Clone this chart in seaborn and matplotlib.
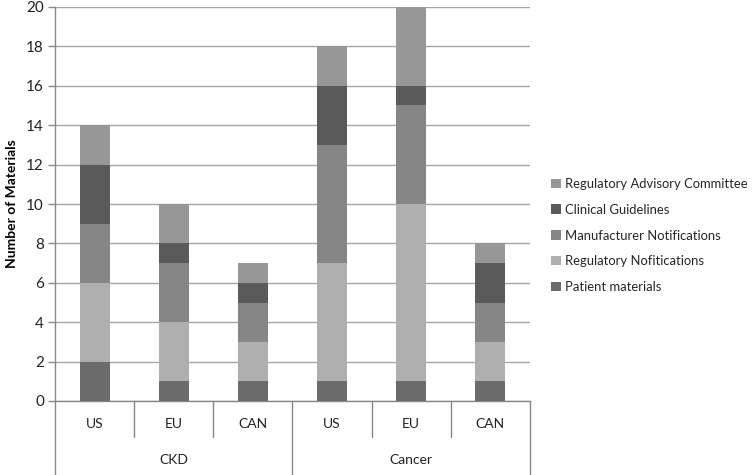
import pandas as pd
import numpy as np
import seaborn as sns
import matplotlib.pyplot as plt
import matplotlib.transforms as mtransforms
from matplotlib.patches import Patch

# Data
groups = ["CKD", "CKD", "CKD", "Cancer", "Cancer", "Cancer"]
regions = ["US", "EU", "CAN", "US", "EU", "CAN"]
series = ["Patient materials", "Regulatory Nofitications", "Manufacturer Notifications",
          "Clinical Guidelines", "Regulatory Advisory Committee"]
patient_materials = [2, 1, 1, 1, 1, 1]
regulatory_notifications = [4, 3, 2, 6, 9, 2]
manufacturer_notifications = [3, 3, 2, 6, 5, 2]
clinical_guidelines = [3, 1, 1, 3, 1, 2]
regulatory_advisory = [2, 2, 1, 2, 4, 1]
colors = ["#6b6b6b", "#afafaf", "#868686", "#5a5a5a", "#979797"]

sns.set_theme(style="white")
plt.rcParams['font.family'] = ['Lato', 'DejaVu Sans']

df = pd.DataFrame({
    "pos": np.arange(6),
    series[0]: patient_materials,
    series[1]: regulatory_notifications,
    series[2]: manufacturer_notifications,
    series[3]: clinical_guidelines,
    series[4]: regulatory_advisory,
})
cum = df[series].cumsum(axis=1)

fig = plt.figure(figsize=(7.52, 4.75), dpi=100)
ax = fig.add_axes([55 / 752, 1 - 401 / 475, 475 / 752, 394 / 475])

# stacked bars: draw cumulative totals from the top layer down
for name, color in reversed(list(zip(series, colors))):
    sns.barplot(x=df["pos"], y=cum[name], color=color, width=0.38,
                native_scale=True, ax=ax, saturation=1, edgecolor="none", zorder=3)

ax.set_xlim(-0.5, 5.5)
ax.set_ylim(0, 20)
ax.set_yticks(range(0, 21, 2))
ax.yaxis.grid(True, color="#a6a6a6", linewidth=1, zorder=0)
ax.set_axisbelow(True)
ax.set_xticks([])
ax.set_xlabel("")
ax.set_ylabel("Number of Materials", fontsize=10, fontweight="bold", color="black", labelpad=6)
ax.tick_params(axis="y", left=True, length=5, width=1, color="#888888",
               labelsize=11, labelcolor="#222222", pad=3)
for s in ["top", "right"]:
    ax.spines[s].set_visible(False)
for s in ["left", "bottom"]:
    ax.spines[s].set_color("#888888")
    ax.spines[s].set_linewidth(1)

# multi-level category axis
trans = mtransforms.blended_transform_factory(ax.transData, ax.transAxes)
for x in [0.5, 1.5, 3.5, 4.5]:
    ax.plot([x, x], [0, -36 / 394], color="#888888", lw=1, transform=trans, clip_on=False)
for x in [-0.5, 2.5, 5.5]:
    ax.plot([x, x], [0, -74 / 394], color="#888888", lw=1, transform=trans, clip_on=False)
for i, r in enumerate(regions):
    ax.text(i, -23 / 394, r, ha="center", va="center", fontsize=10,
            color="#222222", transform=trans)
for g, x in [("CKD", 1), ("Cancer", 4)]:
    ax.text(x, -59 / 394, g, ha="center", va="center", fontsize=10,
            color="#222222", transform=trans)

handles = [Patch(facecolor=c, edgecolor="none", label=n) for n, c in zip(series, colors)]
fig.legend(handles=handles[::-1], loc="center left", bbox_to_anchor=(551 / 752, 1 - 235.5 / 475),
           frameon=False, fontsize=9.4, handlelength=0.75, handleheight=0.75,
           handletextpad=0.35, labelspacing=1.05, borderaxespad=0, borderpad=0)

fig.savefig("out.png", dpi=100)
